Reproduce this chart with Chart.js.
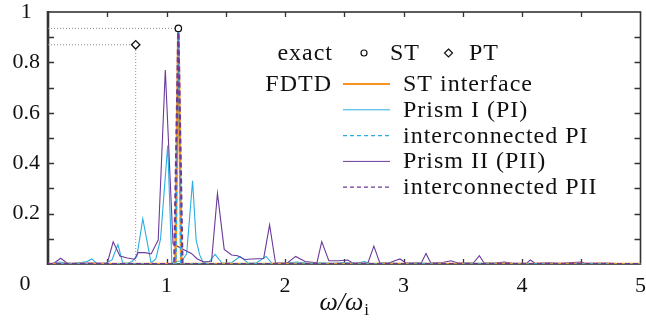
<!DOCTYPE html>
<html>
<head>
<meta charset="utf-8">
<script src="https://cdn.jsdelivr.net/npm/chart.js@4.4.1/dist/chart.umd.min.js"></script>
<style>
  html, body { margin: 0; padding: 0; background: #fff; }
  #wrap { width: 646px; height: 322px; }
</style>
</head>
<body>
<div id="wrap"><canvas id="spec" width="646" height="322"></canvas></div>
<script>
/* ===== spectrum: transmitted amplitude vs normalised frequency ===== */

// axis ticks
const xTickLabels = [1, 2, 3, 4, 5];
const yTickLabels = [0.2, 0.4, 0.6, 0.8, 1];

// exact values
const exactST = [1.1, 0.935];
const exactPT = [0.74, 0.87];

// FDTD, ST interface
const stX = [0, 1.075, 1.1, 1.125, 5];
const stY = [0, 0, 0.935, 0, 0];

// FDTD, interconnected PI
const icPIX = [0, 1.08, 1.1, 1.12, 5];
const icPIY = [0, 0, 0.935, 0, 0];

// FDTD, interconnected PII
const icPIIX = [0, 1.065, 1.1, 1.135, 5];
const icPIIY = [0, 0, 0.935, 0, 0];

// FDTD, Prism I
const piX = [0, 0.05, 0.1, 0.15, 0.2, 0.28, 0.33, 0.37, 0.41, 0.49, 0.54, 0.59, 0.63, 0.67, 0.71, 0.75, 0.8, 0.87, 0.91, 0.95, 1.01, 1.045, 1.08, 1.13, 1.17, 1.22, 1.25, 1.28, 1.31, 1.36, 1.41, 1.47, 1.55, 1.62, 1.69, 1.76, 1.84, 1.89, 2.0, 2.1, 2.2, 2.3, 2.4, 2.5, 2.6, 2.67, 2.72, 2.9, 3.0, 3.1, 3.3, 3.6, 4.0, 4.5, 5];
const piY = [0, 0.004, 0.008, 0.004, 0.002, 0.006, 0.01, 0.02, 0.003, 0.004, 0.016, 0.077, 0.005, 0.003, 0.01, 0.03, 0.18, 0.004, 0.02, 0.1, 0.47, 0.005, 0.01, 0.012, 0.04, 0.33, 0.095, 0.036, 0.005, 0.01, 0.038, 0.003, 0.005, 0.03, 0.003, 0.005, 0.03, 0.003, 0.004, 0.008, 0.003, 0.005, 0.003, 0.006, 0.003, 0.01, 0.002, 0.004, 0.002, 0.004, 0.002, 0.003, 0.002, 0.002, 0.001];

// FDTD, Prism II
const piiX = [0, 0.05, 0.107, 0.16, 0.25, 0.35, 0.45, 0.5, 0.55, 0.607, 0.67, 0.73, 0.76, 0.82, 0.87, 0.93, 0.99, 1.055, 1.155, 1.21, 1.26, 1.31, 1.38, 1.43, 1.487, 1.55, 1.6, 1.66, 1.72, 1.82, 1.87, 1.92, 2.02, 2.09, 2.17, 2.27, 2.31, 2.37, 2.45, 2.53, 2.57, 2.7, 2.75, 2.8, 2.88, 2.97, 3.02, 3.15, 3.19, 3.23, 3.33, 3.4, 3.46, 3.59, 3.64, 3.68, 3.78, 3.85, 3.92, 4.04, 4.07, 4.11, 4.23, 4.32, 4.5, 4.53, 4.71, 4.8, 5];
const piiY = [0, 0.003, 0.023, 0.004, 0.003, 0.004, 0.003, 0.003, 0.088, 0.032, 0.024, 0.019, 0.045, 0.045, 0.04, 0.095, 0.77, 0.08, 0.055, 0.042, 0.02, 0.009, 0.01, 0.28, 0.058, 0.036, 0.033, 0.018, 0.02, 0.022, 0.155, 0.004, 0.004, 0.03, 0.01, 0.005, 0.089, 0.013, 0.013, 0.016, 0.004, 0.004, 0.071, 0.004, 0.005, 0.02, 0.004, 0.004, 0.042, 0.004, 0.006, 0.013, 0.004, 0.004, 0.033, 0.004, 0.004, 0.008, 0.003, 0.003, 0.016, 0.003, 0.005, 0.003, 0.008, 0.003, 0.004, 0.002, 0.002];

const ORANGE = '#f7931e';
const CYAN = '#2aade3';
const PURPLE = '#6a3a9c';
const FRAME = '#333333';
const SERIF = '"Liberation Serif", "DejaVu Serif", serif';

const pts = (xs, ys) => xs.map((x, i) => ({ x: x, y: ys[i] }));

function lineSet(xs, ys, color, width, dash) {
  return {
    data: pts(xs, ys),
    borderColor: color,
    borderWidth: width,
    borderDash: dash || [],
    pointRadius: 0,
    fill: false,
    tension: 0
  };
}

// dotted guides from the exact values to the axes
const guideST = lineSet([0, exactST[0]], [exactST[1], exactST[1]], '#8a8a8a', 1, [1, 2]);
const guidePT = lineSet([0, exactPT[0], exactPT[0]], [exactPT[1], exactPT[1], 0], '#8a8a8a', 1, [1, 2]);

const markST = {
  data: [{ x: exactST[0], y: exactST[1] }],
  showLine: false, pointStyle: 'circle', pointRadius: 3.2,
  pointBorderColor: '#111', pointBackgroundColor: '#fff', pointBorderWidth: 1.3
};
const markPT = {
  data: [{ x: exactPT[0], y: exactPT[1] }],
  showLine: false, pointStyle: 'rectRot', pointRadius: 4.2,
  pointBorderColor: '#111', pointBackgroundColor: '#fff', pointBorderWidth: 1.3
};

// frame, inward ticks, legend and the extra labels
const decorations = {
  id: 'decorations',
  beforeDatasetsDraw(chart) {
    const { ctx, chartArea: a, scales: { x, y } } = chart;
    ctx.save();
    ctx.strokeStyle = FRAME;
    ctx.lineWidth = 1.3;
    for (let v = 0.5; v < 5; v += 0.5) {
      const px = Math.round(x.getPixelForValue(v)) + 0.5;
      ctx.beginPath();
      ctx.moveTo(px, a.top); ctx.lineTo(px, a.top + 5);
      ctx.moveTo(px, a.bottom); ctx.lineTo(px, a.bottom - 5);
      ctx.stroke();
    }
    for (let k = 1; k < 10; k++) {
      const py = Math.round(y.getPixelForValue(k / 10)) + 0.5;
      ctx.beginPath();
      ctx.moveTo(a.left, py); ctx.lineTo(a.left + 6, py);
      ctx.moveTo(a.right, py); ctx.lineTo(a.right - 6, py);
      ctx.stroke();
    }
    ctx.lineWidth = 1.6;
    ctx.strokeRect(a.left, a.top, a.right - a.left, a.bottom - a.top);
    ctx.lineWidth = 2.6;
    ctx.beginPath();
    ctx.moveTo(a.left, a.top - 1); ctx.lineTo(a.left, a.bottom + 1);
    ctx.stroke();
    ctx.restore();
  },
  afterDraw(chart) {
    const { ctx, chartArea: a } = chart;
    ctx.save();
    ctx.fillStyle = '#111';
    ctx.font = '22px ' + SERIF;
    ctx.textAlign = 'center';
    ctx.textBaseline = 'alphabetic';
    ctx.fillText('0', 25, 290);

    // x axis title: ω/ω with subscript i
    const cx = (a.left + a.right) / 2;
    ctx.font = 'italic 26px ' + SERIF;
    const main = 'ω/ω';
    const wMain = ctx.measureText(main).width;
    ctx.font = '17px ' + SERIF;
    const wSub = ctx.measureText('i').width;
    const x0 = cx - (wMain + wSub + 1) / 2;
    ctx.textAlign = 'left';
    ctx.font = 'italic 26px ' + SERIF;
    ctx.fillText(main, x0, 310);
    ctx.font = '17px ' + SERIF;
    ctx.fillText('i', x0 + wMain + 1, 315);

    // legend
    ctx.font = '24px ' + SERIF;
    ctx.letterSpacing = '1px';
    ctx.textAlign = 'right';
    ctx.fillText('exact', 333, 60);
    ctx.fillText('FDTD', 332, 91);
    ctx.textAlign = 'left';
    ctx.fillText('ST', 390, 60);
    ctx.fillText('PT', 469, 60);

    ctx.lineWidth = 1.2;
    ctx.strokeStyle = '#111';
    ctx.fillStyle = '#fff';
    ctx.beginPath(); ctx.arc(364, 53, 3, 0, Math.PI * 2); ctx.fill(); ctx.stroke();
    ctx.beginPath();
    ctx.moveTo(448.5, 49); ctx.lineTo(452.5, 53); ctx.lineTo(448.5, 57); ctx.lineTo(444.5, 53);
    ctx.closePath(); ctx.fill(); ctx.stroke();

    const rows = [
      { label: 'ST interface', color: ORANGE, width: 2.2, dash: [] },
      { label: 'Prism I (PI)', color: CYAN, width: 1, dash: [] },
      { label: 'interconnected PI', color: CYAN, width: 1.2, dash: [4, 3] },
      { label: 'Prism II (PII)', color: PURPLE, width: 1, dash: [] },
      { label: 'interconnected PII', color: PURPLE, width: 1.2, dash: [4, 3] }
    ];
    rows.forEach((r, i) => {
      const base = 91 + i * 25.8;
      ctx.strokeStyle = r.color;
      ctx.lineWidth = r.width;
      ctx.setLineDash(r.dash);
      ctx.beginPath();
      ctx.moveTo(343, base - 7); ctx.lineTo(390, base - 7);
      ctx.stroke();
      ctx.setLineDash([]);
      ctx.fillStyle = '#111';
      ctx.fillText(r.label, 403, base);
    });
    ctx.restore();
  }
};

new Chart(document.getElementById('spec'), {
  type: 'line',
  data: {
    datasets: [
      markST,
      markPT,
      lineSet(icPIIX, icPIIY, PURPLE, 2.2, [5, 3]),
      lineSet(icPIX, icPIY, CYAN, 1.4, [4, 3]),
      lineSet(stX, stY, ORANGE, 2.6),
      lineSet(piiX, piiY, PURPLE, 1.1),
      lineSet(piX, piY, CYAN, 1.1),
      guideST,
      guidePT
    ]
  },
  options: {
    responsive: false,
    animation: false,
    devicePixelRatio: 1,
    layout: { padding: { top: 12, right: 5, left: 0, bottom: 0 } },
    plugins: { legend: { display: false }, tooltip: { enabled: false } },
    scales: {
      x: {
        type: 'linear', min: 0, max: 5,
        grid: { display: false, drawTicks: false },
        border: { display: false },
        afterFit: s => { s.height = 58; s.paddingLeft = 0; s.paddingRight = 0; },
        ticks: {
          stepSize: 1, padding: 9, color: '#111', maxRotation: 0,
          font: { family: SERIF, size: 22 },
          callback: v => xTickLabels.includes(v) ? String(v) : ''
        }
      },
      y: {
        min: 0, max: 1,
        grid: { display: false, drawTicks: false },
        border: { display: false },
        afterFit: s => { s.width = 48; s.paddingTop = 0; s.paddingBottom = 0; },
        ticks: {
          stepSize: 0.2, padding: 8, color: '#111', crossAlign: 'center',
          font: { family: SERIF, size: 22 },
          callback: v => yTickLabels.some(t => Math.abs(t - v) < 1e-9) ? String(+v.toFixed(1)) : ''
        }
      }
    }
  },
  plugins: [decorations]
});
</script>
</body>
</html>
